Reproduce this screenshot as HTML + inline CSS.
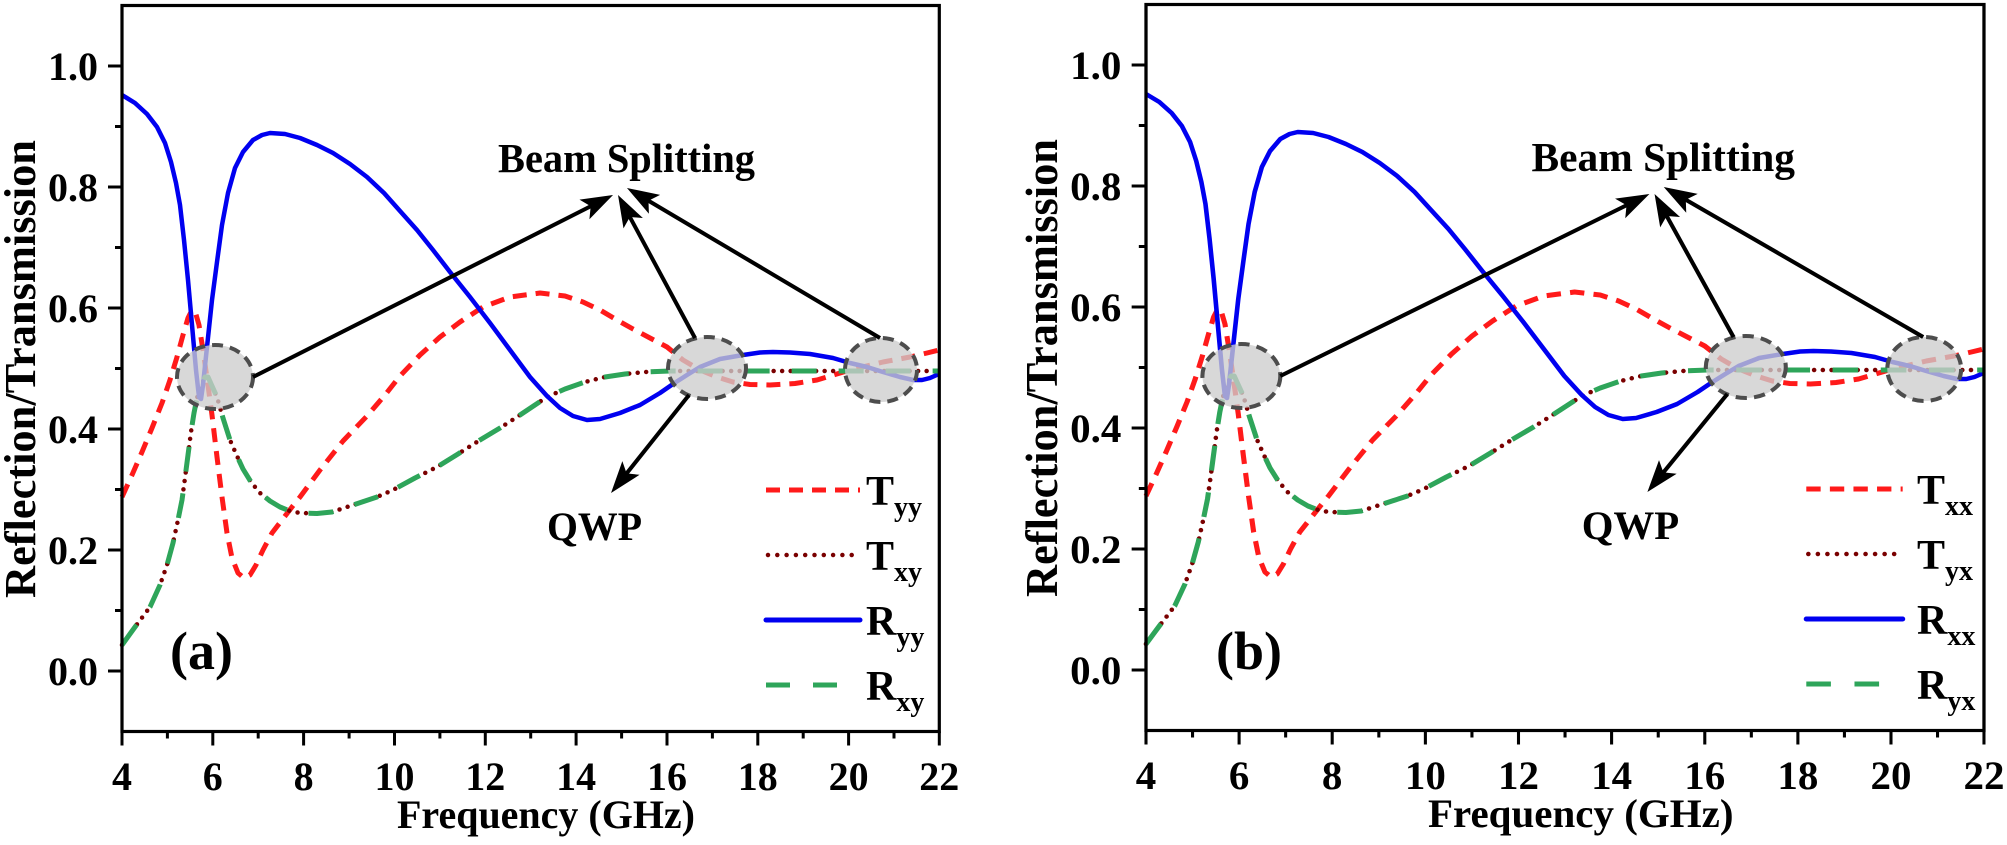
<!DOCTYPE html>
<html>
<head>
<meta charset="utf-8">
<style>
  html, body { margin:0; padding:0; background:#ffffff; }
  body { width:2007px; height:845px; overflow:hidden; }
  svg { display:block; font-family:"Liberation Serif", "DejaVu Serif", serif; }
  svg text { font-family:"Liberation Serif", "DejaVu Serif", serif; font-weight:bold; fill:#000; }
</style>
</head>
<body>
<svg width="2007" height="845" viewBox="0 0 2007 845" xmlns="http://www.w3.org/2000/svg" font-family="Liberation Serif, DejaVu Serif, serif" font-weight="bold">
  <defs>
    <marker id="ah" viewBox="-36 -14 38 28" refX="-12" refY="0" markerWidth="38" markerHeight="28" markerUnits="userSpaceOnUse" orient="auto">
      <path d="M0,0 L-32,-11 L-25,0 L-32,11 Z" fill="#000"/>
    </marker>
    <g id="P" font-family="Liberation Serif, DejaVu Serif, serif" font-weight="bold">
      <!-- curves -->
      <polyline fill="none" stroke="#ff1a1a" stroke-width="5" stroke-dasharray="14 9" stroke-linejoin="round"
        points="122,497 132,475 142,452 152,428 162,403 170,380 177,357 183,335 188,318 192,310 195,311 199,325 203,350 207,378 212,415 217,457 222,497 227,533 232,558 238,573 244,578 250,575 256,565 263,550 272,533 282,520 292,507 300,497 320,470 343,441 367,416 385,395 400,376 420,355 440,337 460,322 483,307 510,297 540,293 565,296 583,302 600,310 617,320 633,329 650,338 667,347 683,360 700,370 717,377 733,382 750,384.5 770,385 795,383.5 817,380 850,370 883,362 910,357 927,353 939,350"/>
      <polyline fill="none" stroke="#7a0000" stroke-width="4.5" stroke-dasharray="0 8.5" stroke-linecap="round" stroke-linejoin="round"
        points="122,645 135,627 150,607 160,585 167,565 173,543 178,520 182,500 185,478 188,455 191,432 194,413 197,398 201,386 205,377 208,377 212,386 217,397 223,418 230,440 237,456 243,469 251,482 260,493 270,501 280,507 290,511 300,513 317,513.5 332,512 347,507 362,502 377,497 393,490 415,478 437,467 458,454 480,440 500,428 520,415 547,397 565,389 585,382 605,377 625,374 645,372 670,371 939,371"/>
      <polyline fill="none" stroke="#0000f0" stroke-width="4.5" stroke-linejoin="round"
        points="122,95 135,103 147,114 157,127 165,143 171,162 176,183 180,205 184,240 188,280 192,325 196,370 199,397 201,399 203,385 207,347 212,300 217,262 222,225 228,193 235,168 243,152 253,140 262,135 270,133 285,134 300,138 317,145 333,153 350,164 367,177 384,193 400,211 417,230 433,250 450,272 470,297 490,323 510,350 530,377 547,396 560,408 573,416 587,420 600,419 620,413 640,405 660,393 673,384 687,375 700,367 720,359 743,355 760,352.5 773,352 790,352.5 810,354 833,358 850,363 867,367 883,372 900,377 913,380 922,380 930,378 939,374"/>
      <polyline fill="none" stroke="#2ea55a" stroke-width="5" stroke-dasharray="25 22" stroke-linejoin="round"
        points="122,645 135,627 150,607 160,585 167,565 173,543 178,520 182,500 185,478 188,455 191,432 194,413 197,398 201,386 205,377 208,377 212,386 217,397 223,418 230,440 237,456 243,469 251,482 260,493 270,501 280,507 290,511 300,513 317,513.5 332,512 347,507 362,502 377,497 393,490 415,478 437,467 458,454 480,440 500,428 520,415 547,397 565,389 585,382 605,377 625,374 645,372 670,371 939,371"/>

      <!-- ellipses -->
      <g fill="#cdcdcd" fill-opacity="0.78" stroke="#4d4d4d" stroke-width="4" stroke-dasharray="11 7">
        <ellipse cx="215" cy="377" rx="38" ry="32"/>
        <ellipse cx="707" cy="368" rx="39" ry="31"/>
        <ellipse cx="881" cy="370" rx="36" ry="32"/>
      </g>

      <!-- arrows -->
      <g stroke="#000" stroke-width="4" fill="none" marker-end="url(#ah)">
        <line x1="253" y1="377" x2="602.3" y2="200.4"/>
        <line x1="695" y1="338" x2="623.7" y2="205.6"/>
        <line x1="880" y1="338" x2="637.3" y2="194.1"/>
        <line x1="689" y1="395" x2="618.5" y2="483.6"/>
      </g>
      <text x="498" y="172" font-size="41" textLength="257" lengthAdjust="spacingAndGlyphs">Beam Splitting</text>
      <text x="547" y="540" font-size="40" textLength="95" lengthAdjust="spacingAndGlyphs">QWP</text>

      <!-- legend lines -->
      <line x1="766" y1="490" x2="860" y2="490" stroke="#ff1a1a" stroke-width="5" stroke-dasharray="14 9"/>
      <line x1="768" y1="555" x2="860" y2="555" stroke="#7a0000" stroke-width="4.5" stroke-dasharray="0 9.3" stroke-linecap="round"/>
      <line x1="766" y1="620" x2="860" y2="620" stroke="#0000f0" stroke-width="5" stroke-linecap="round"/>
      <line x1="766" y1="685" x2="837" y2="685" stroke="#2ea55a" stroke-width="5" stroke-dasharray="24 23"/>

      <!-- axes frame -->
      <rect x="122" y="5.5" width="817.3" height="726" fill="none" stroke="#000" stroke-width="3.2"/>
      <g stroke="#000" stroke-width="3">
        <line x1="108" y1="66" x2="122" y2="66"/>
        <line x1="108" y1="187" x2="122" y2="187"/>
        <line x1="108" y1="308" x2="122" y2="308"/>
        <line x1="108" y1="429" x2="122" y2="429"/>
        <line x1="108" y1="550" x2="122" y2="550"/>
        <line x1="108" y1="671" x2="122" y2="671"/>
        <line x1="115" y1="126.5" x2="122" y2="126.5"/>
        <line x1="115" y1="247.5" x2="122" y2="247.5"/>
        <line x1="115" y1="368.5" x2="122" y2="368.5"/>
        <line x1="115" y1="489.5" x2="122" y2="489.5"/>
        <line x1="115" y1="610.5" x2="122" y2="610.5"/>
        <line x1="122" y1="731.5" x2="122" y2="745.5"/>
        <line x1="212.8" y1="731.5" x2="212.8" y2="745.5"/>
        <line x1="303.6" y1="731.5" x2="303.6" y2="745.5"/>
        <line x1="394.5" y1="731.5" x2="394.5" y2="745.5"/>
        <line x1="485.3" y1="731.5" x2="485.3" y2="745.5"/>
        <line x1="576.1" y1="731.5" x2="576.1" y2="745.5"/>
        <line x1="667" y1="731.5" x2="667" y2="745.5"/>
        <line x1="757.8" y1="731.5" x2="757.8" y2="745.5"/>
        <line x1="848.6" y1="731.5" x2="848.6" y2="745.5"/>
        <line x1="939.3" y1="731.5" x2="939.3" y2="745.5"/>
        <line x1="167.4" y1="731.5" x2="167.4" y2="738.5"/>
        <line x1="258.2" y1="731.5" x2="258.2" y2="738.5"/>
        <line x1="349.1" y1="731.5" x2="349.1" y2="738.5"/>
        <line x1="439.9" y1="731.5" x2="439.9" y2="738.5"/>
        <line x1="530.7" y1="731.5" x2="530.7" y2="738.5"/>
        <line x1="621.6" y1="731.5" x2="621.6" y2="738.5"/>
        <line x1="712.4" y1="731.5" x2="712.4" y2="738.5"/>
        <line x1="803.2" y1="731.5" x2="803.2" y2="738.5"/>
        <line x1="894" y1="731.5" x2="894" y2="738.5"/>
      </g>
      <g font-size="40" text-anchor="end">
        <text x="98" y="80">1.0</text>
        <text x="98" y="201">0.8</text>
        <text x="98" y="322">0.6</text>
        <text x="98" y="443">0.4</text>
        <text x="98" y="564">0.2</text>
        <text x="98" y="685">0.0</text>
      </g>
      <g font-size="40" text-anchor="middle">
        <text x="122" y="790">4</text>
        <text x="212.8" y="790">6</text>
        <text x="303.6" y="790">8</text>
        <text x="394.5" y="790">10</text>
        <text x="485.3" y="790">12</text>
        <text x="576.1" y="790">14</text>
        <text x="667" y="790">16</text>
        <text x="757.8" y="790">18</text>
        <text x="848.6" y="790">20</text>
        <text x="939.3" y="790">22</text>
      </g>
      <text x="397" y="828" font-size="40" textLength="298" lengthAdjust="spacingAndGlyphs">Frequency (GHz)</text>
      <text transform="translate(35,369) rotate(-90)" text-anchor="middle" font-size="44" textLength="458" lengthAdjust="spacingAndGlyphs">Reflection/Transmission</text>
    </g>
  </defs>

  <rect x="0" y="0" width="2007" height="845" fill="#ffffff"/>

  <!-- Panel (a) -->
  <use href="#P"/>
  <text x="170" y="669" font-size="54" font-family="Liberation Serif, DejaVu Serif, serif" font-weight="bold">(a)</text>
  <g font-size="42" font-family="Liberation Serif, DejaVu Serif, serif" font-weight="bold">
    <text x="866" y="505">T<tspan font-size="28" dy="11">yy</tspan></text>
    <text x="866" y="570">T<tspan font-size="28" dy="11">xy</tspan></text>
    <text x="866" y="635">R<tspan font-size="28" dy="11">yy</tspan></text>
    <text x="866" y="700">R<tspan font-size="28" dy="11">xy</tspan></text>
  </g>

  <!-- Panel (b) -->
  <use href="#P" transform="translate(1146,-1) scale(1.0253,1) translate(-122,0)"/>
  <text x="1216" y="669" font-size="54" font-family="Liberation Serif, DejaVu Serif, serif" font-weight="bold">(b)</text>
  <g font-size="42" font-family="Liberation Serif, DejaVu Serif, serif" font-weight="bold">
    <text x="1917" y="504">T<tspan font-size="28" dy="11">xx</tspan></text>
    <text x="1917" y="569">T<tspan font-size="28" dy="11">yx</tspan></text>
    <text x="1917" y="634">R<tspan font-size="28" dy="11">xx</tspan></text>
    <text x="1917" y="699">R<tspan font-size="28" dy="11">yx</tspan></text>
  </g>
</svg>
</body>
</html>
